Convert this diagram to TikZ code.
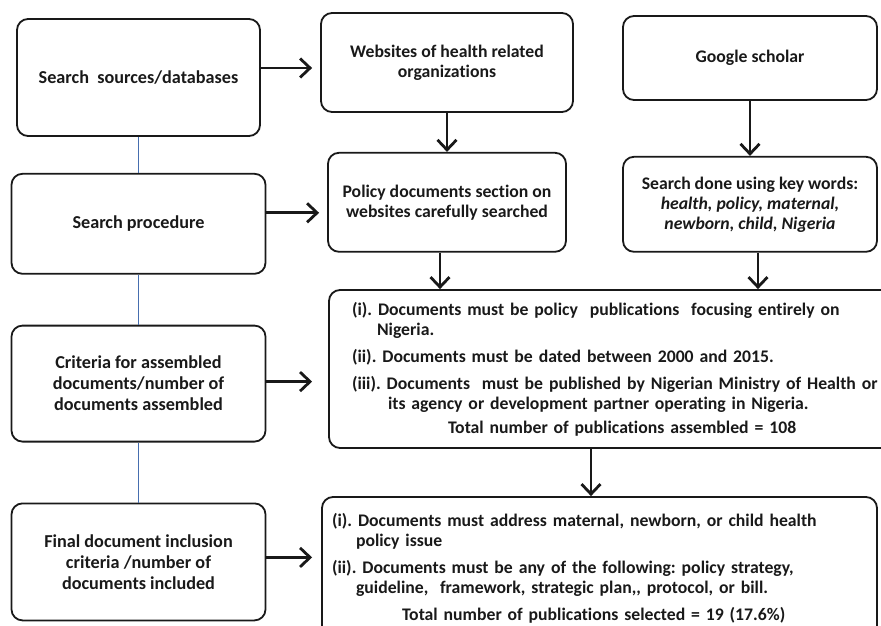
\documentclass[tikz,border=0pt]{standalone}
\usepackage{fontspec}
\setmainfont{Carlito}[Ligatures=NoCommon]
\usetikzlibrary{arrows.meta}
\usetikzlibrary{positioning}
\definecolor{ink}{RGB}{25,25,25}
\definecolor{linkblue}{RGB}{70,110,175}
\tikzstyle{lbox}=[rectangle, draw=ink, rounded corners=11pt, line width=1.8pt, text=ink, align=center, minimum width=254pt, font=\bfseries\frenchspacing\fontsize{18.2}{21}\selectfont]
\tikzstyle{rbox}=[rectangle, draw=ink, rounded corners=11pt, line width=1.8pt, text=ink, align=center, minimum width=254pt, font=\bfseries\frenchspacing\fontsize{17.7}{20}\selectfont]
\tikzstyle{flow}=[draw=ink, line width=2.8pt, -{Straight Barb[length=10pt,width=19pt]}]
\tikzstyle{link}=[draw=linkblue, line width=1.4pt]

\begin{document}
\begin{tikzpicture}[x=1pt, y=-1pt]
    \useasboundingbox (0,0) rectangle (881,626);
    \clip (0,0) rectangle (881,626);

    % left column
    \node[lbox, minimum width=243pt, minimum height=117pt] (src) at (138.5,77.5) {Search\ \ sources/databases};
    \node[lbox, minimum height=100pt, below=36pt of src] (proc) {Search procedure};
    \node[lbox, minimum height=116pt, below=50pt of proc] (critA) {Criteria for assembled\\documents/number of\\documents assembled};
    \node[lbox, minimum height=117pt, below=60pt of critA] (critB) {Final document inclusion\\criteria /number of\\documents included};

    % sources
    \node[rbox, minimum width=252pt, minimum height=99pt] (web) at (447,62.5) {Websites of health related\\organizations};
    \node[rbox, minimum width=238pt, minimum height=99pt, below=39pt of web] (pol) {Policy documents section on\\websites carefully searched};
    \node[rbox, minimum height=84pt] (gs) at (750,58) {Google scholar};
    \node[rbox, minimum height=95pt, below=55pt of gs] (kw) {Search done using key words:\\\textit{health, policy, maternal,}\\\textit{newborn, child, Nigeria}};

    % criteria
    \node[rbox, align=left, text width=540pt, inner xsep=23pt, minimum height=158pt] (asm) at (622,369) {(i). Documents must be policy\ \ publications\ \ focusing entirely on\\\hspace*{25pt}Nigeria.\\[7pt](ii). Documents must be dated between 2000 and 2015.\\[7pt](iii). Documents\ \ must be published by Nigerian Ministry of Health or\\\hspace*{36pt}its agency or development partner operating in Nigeria.\\[4pt]\hspace*{96pt}Total number of publications assembled = 108};
    \node[rbox, align=left, text width=535pt, inner xsep=10pt, minimum height=143pt] (sel) at (599.5,568.5) {(i). Documents must address maternal, newborn, or child health\\\hspace*{24pt}policy issue\\[7pt](ii). Documents must be any of the following: policy strategy,\\\hspace*{24pt}guideline,\ \ framework, strategic plan,{},{} protocol, or bill.\\[7pt]\hspace*{70pt}Total number of publications selected = 19 (17.6\%)};

    % links
    \draw[link] (src) -- (proc);
    \draw[link] (proc) -- (critA);
    \draw[link] (critA) -- (critB);

    \draw[flow, shorten >=8pt] ([yshift=9.5pt]src.east) -- ([yshift=9.5pt]src.east -| web.west);
    \draw[flow, shorten >=8pt] ([yshift=11pt]proc.east) -- ([yshift=11pt]proc.east -| pol.west);
    \draw[flow, shorten >=16pt] ([yshift=2pt]critA.east) -- ([yshift=2pt]critA.east -| asm.west);
    \draw[flow, shorten >=9pt] ([yshift=4.5pt]critB.east) -- ([yshift=4.5pt]critB.east -| sel.west);

    \draw[flow] (web.south) -- (web.south |- pol.north);
    \draw[flow] (gs.south) -- (kw.north);
    \draw[flow] ([xshift=-7pt]pol.south) -- ([xshift=-7pt]pol.south |- asm.north);
    \draw[flow] ([xshift=8pt]kw.south) -- ([xshift=8pt]kw.south |- asm.north);
    \draw[flow] ([xshift=-8.5pt]sel.north |- asm.south) -- ([xshift=-8.5pt]sel.north);
\end{tikzpicture}
\end{document}
